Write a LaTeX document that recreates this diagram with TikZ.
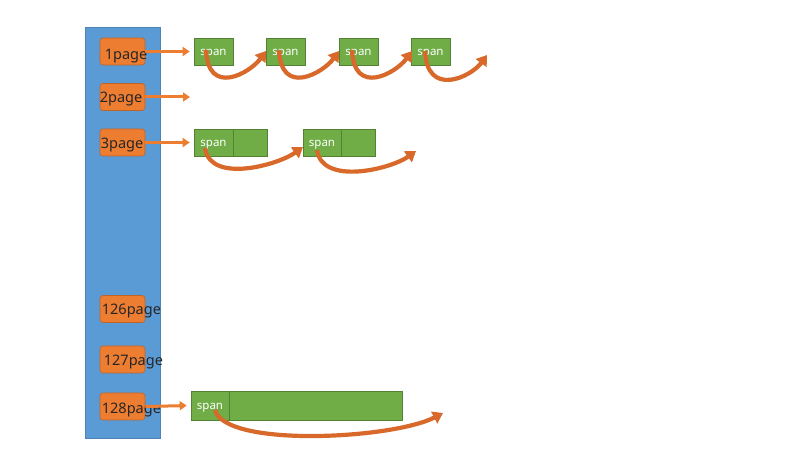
\documentclass[tikz,border=0pt]{standalone}
\usepackage{fontspec}
\setmainfont{Noto Sans}
\usetikzlibrary{arrows.meta,positioning}
\definecolor{pageblue}{HTML}{5B9BD5}
\definecolor{pageorange}{HTML}{ED7D31}
\definecolor{hoporange}{HTML}{D8692A}
\definecolor{spangreen}{HTML}{70AD47}
\definecolor{spanedge}{HTML}{548235}

\begin{document}
\begin{tikzpicture}[
    x=1pt, y=-1pt,
    bar/.style={rectangle, fill=pageblue, draw=pageblue!85!black, line width=0.6pt,
                minimum width=75pt, minimum height=411pt, inner sep=0pt},
    page/.style={rectangle, rounded corners=3pt, fill=pageorange, draw=pageorange!80!black,
                 line width=0.6pt, minimum width=45pt, minimum height=27pt, inner sep=0pt},
    pagetext/.style={anchor=base west, inner sep=0pt, text=black!85,
                     font=\fontsize{14.5}{16}\selectfont},
    span/.style={rectangle, fill=spangreen, draw=spanedge, line width=0.6pt,
                 minimum height=27pt, inner sep=0pt, text=white,
                 text height=8.5pt, text depth=0pt,
                 font=\fontsize{11.5}{13}\selectfont},
    link/.style={pageorange, line width=3pt, shorten >=4pt,
                 -{Triangle[length=7pt,width=9pt]}},
    hop/.style={hoporange, line width=4.2pt, -{Triangle[length=10pt,width=13pt]}}
]
    \useasboundingbox (0,0) rectangle (785,454);

    % Page list
    \node[bar] (bar) at (122.5,232.5) {};
    \node[page] (p1)   at (122.5,51.5)  {};
    \node[page] (p2)   at (122.5,97)    {};
    \node[page] (p3)   at (122.5,142.5) {};
    \node[page] (p126) at (122.5,309)   {};
    \node[page] (p127) at (122.5,359.5) {};
    \node[page] (p128) at (122.5,406.5) {};

    % Page labels (wider than their boxes)
    \node[pagetext] (t1)   at ([xshift=5pt,yshift=-8pt]p1.west)   {1page};
    \node[pagetext] (t2)   at ([xshift=0pt,yshift=-6pt]p2.west)   {2page};
    \node[pagetext] (t3)   at ([xshift=1pt,yshift=-6pt]p3.west)   {3page};
    \node[pagetext] (t126) at ([xshift=2pt,yshift=-6pt]p126.west) {126page};
    \node[pagetext] (t127) at ([xshift=4pt,yshift=-6pt]p127.west) {127page};
    \node[pagetext] (t128) at ([xshift=2pt,yshift=-7pt]p128.west) {128page};

    % Spans of one page
    \node[span, minimum width=39pt] (s11) at (213.5,51.5) {span};
    \node[span, minimum width=39pt] (s12) at (285.5,51.5) {span};
    \node[span, minimum width=39pt] (s13) at (358.5,51.5) {span};
    \node[span, minimum width=39pt] (s14) at (430.5,51.5) {span};

    % Spans of three pages
    \node[span, minimum width=39pt] (s31) at (213.5,142.5) {span};
    \node[span, minimum width=34pt, right=0pt of s31] (r31) {};
    \node[span, minimum width=38pt] (s32) at (322,142.5) {span};
    \node[span, minimum width=34pt, right=0pt of s32] (r32) {};

    % Span of 128 pages
    \node[span, minimum width=38pt, minimum height=29pt] (s128) at (210,405.5) {span};
    \node[span, minimum width=173pt, minimum height=29pt, right=0pt of s128] (r128) {};

    % Links from the pages
    \coordinate (e2) at (194,97);
    \draw[link] (p1.east) -- (s11.west);
    \draw[link] (p2.east) -- (e2);
    \draw[link] (p3.east) -- (s31.west);
    \draw[link] (p128.east) -- (s128.west);

    % Hops from span to span
    \coordinate (h11) at (206,50);  \coordinate (h12) at (266,51);
    \coordinate (h21) at (279,50);  \coordinate (h22) at (339,51);
    \coordinate (h31) at (352,50);  \coordinate (h32) at (412,51);
    \coordinate (h41) at (425,51);  \coordinate (h42) at (487,55);
    \draw[hop] (h11) .. controls +(2,47) and +(-16,22) .. (h12);
    \draw[hop] (h21) .. controls +(2,47) and +(-16,22) .. (h22);
    \draw[hop] (h31) .. controls +(2,47) and +(-16,22) .. (h32);
    \draw[hop] (h41) .. controls +(2,47) and +(-16,22) .. (h42);

    \coordinate (k11) at (205,148); \coordinate (k12) at (303,147);
    \coordinate (k21) at (317,150); \coordinate (k22) at (416,151);
    \draw[hop] (k11) .. controls +(5,36) and +(-25,18) .. (k12);
    \draw[hop] (k21) .. controls +(5,36) and +(-25,18) .. (k22);

    \coordinate (m1) at (215,410); \coordinate (m2) at (443,413);
    \draw[hop] (m1) .. controls +(10,38) and +(-50,26) .. (m2);

\end{tikzpicture}
\end{document}
